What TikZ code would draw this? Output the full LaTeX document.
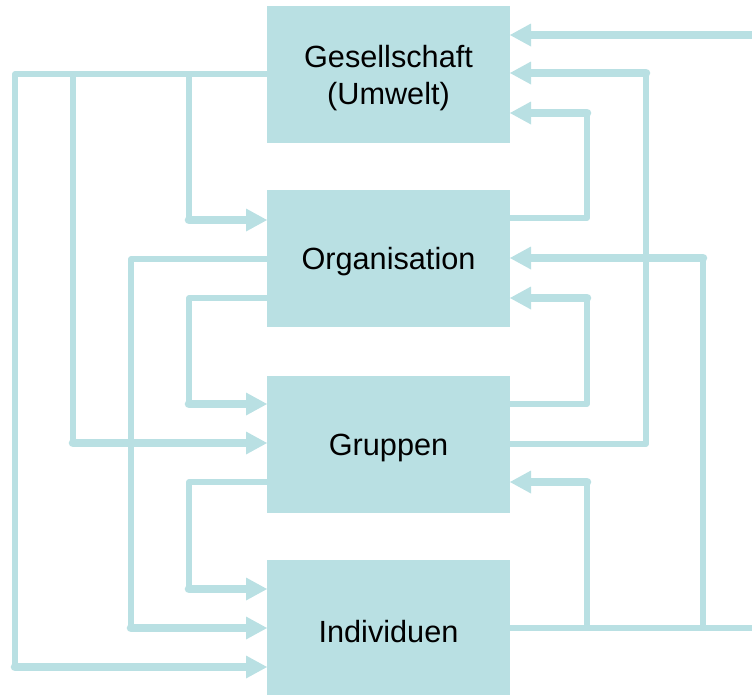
\documentclass[tikz,border=0pt]{standalone}
\usepackage{fontspec}
\setmainfont{Liberation Sans}
\usetikzlibrary{arrows.meta}
\definecolor{tealbox}{RGB}{185,224,227}
\begin{document}
\begin{tikzpicture}[
  x=0.75pt, y=-0.75pt,
  level/.style={fill=tealbox, draw=none, inner sep=0pt, outer sep=0pt,
    minimum width=182.25pt, minimum height=102.75pt},
  caption/.style={align=center, inner sep=0pt, yshift=-2.5pt,
    font=\fontsize{23}{27.6}\selectfont},
  feed/.style={draw=tealbox, line width=4.3pt, line cap=round, line join=round},
  feedtip/.style={draw=tealbox, line width=6.4pt, line cap=round,
    -{Triangle[length=15.75pt, width=17.25pt, fill=tealbox, line width=0pt]}}
]
\useasboundingbox (0,0) rectangle (752,694);
\clip (0,0) rectangle (752,694);

% the four levels
\node[level] (ges) at (388.5,74.5) {};
\node[level] (org) at (388.5,258.5) {};
\node[level] (gru) at (388.5,444.5) {};
\node[level] (ind) at (388.5,628.5) {};
\node[caption] (gest) at (ges.center) {Gesellschaft\\(Umwelt)};
\node[caption] (orgt) at (org.center) {Organisation};
\node[caption] (grut) at (gru.center) {Gruppen};
\node[caption] (indt) at (ind.center) {Individuen};

% corner points of the connectors
\coordinate (l1) at (15,74);   \coordinate (l1e) at (15,667);
\coordinate (l2) at (73,74);   \coordinate (l2e) at (73,443);
\coordinate (l3) at (189,74);  \coordinate (l3e) at (189,220);
\coordinate (l4) at (131,259); \coordinate (l4e) at (131,628);
\coordinate (l5) at (189,298); \coordinate (l5e) at (189,404);
\coordinate (l6) at (189,482); \coordinate (l6e) at (189,589);
\coordinate (r1) at (758,628); \coordinate (r1e) at (758,35);
\coordinate (r2) at (703,628); \coordinate (r2e) at (703,258);
\coordinate (r3) at (587,628); \coordinate (r3e) at (587,482);
\coordinate (r4) at (646,444); \coordinate (r4e) at (646,73);
\coordinate (r5) at (587,404); \coordinate (r5e) at (587,298);
\coordinate (r6) at (587,218); \coordinate (r6e) at (587,113);

% downward influences (left side)
\draw[feed] (ges.west |- l1) -- (l1) -- (l1e);
\draw[feedtip] (l1e) -- (ind.west |- l1e);
\draw[feed] (l2) -- (l2e);
\draw[feedtip] (l2e) -- (gru.west |- l2e);
\draw[feed] (l3) -- (l3e);
\draw[feedtip] (l3e) -- (org.west |- l3e);
\draw[feed] (org.west |- l4) -- (l4) -- (l4e);
\draw[feedtip] (l4e) -- (ind.west |- l4e);
\draw[feed] (org.west |- l5) -- (l5) -- (l5e);
\draw[feedtip] (l5e) -- (gru.west |- l5e);
\draw[feed] (gru.west |- l6) -- (l6) -- (l6e);
\draw[feedtip] (l6e) -- (ind.west |- l6e);

% upward influences (right side)
\draw[feed] (ind.east |- r1) -- (r1) -- (r1e);
\draw[feedtip] (r1e) -- (ges.east |- r1e);
\draw[feed] (r2) -- (r2e);
\draw[feedtip] (r2e) -- (org.east |- r2e);
\draw[feed] (r3) -- (r3e);
\draw[feedtip] (r3e) -- (gru.east |- r3e);
\draw[feed] (gru.east |- r4) -- (r4) -- (r4e);
\draw[feedtip] (r4e) -- (ges.east |- r4e);
\draw[feed] (gru.east |- r5) -- (r5) -- (r5e);
\draw[feedtip] (r5e) -- (org.east |- r5e);
\draw[feed] (org.east |- r6) -- (r6) -- (r6e);
\draw[feedtip] (r6e) -- (ges.east |- r6e);
\end{tikzpicture}
\end{document}
